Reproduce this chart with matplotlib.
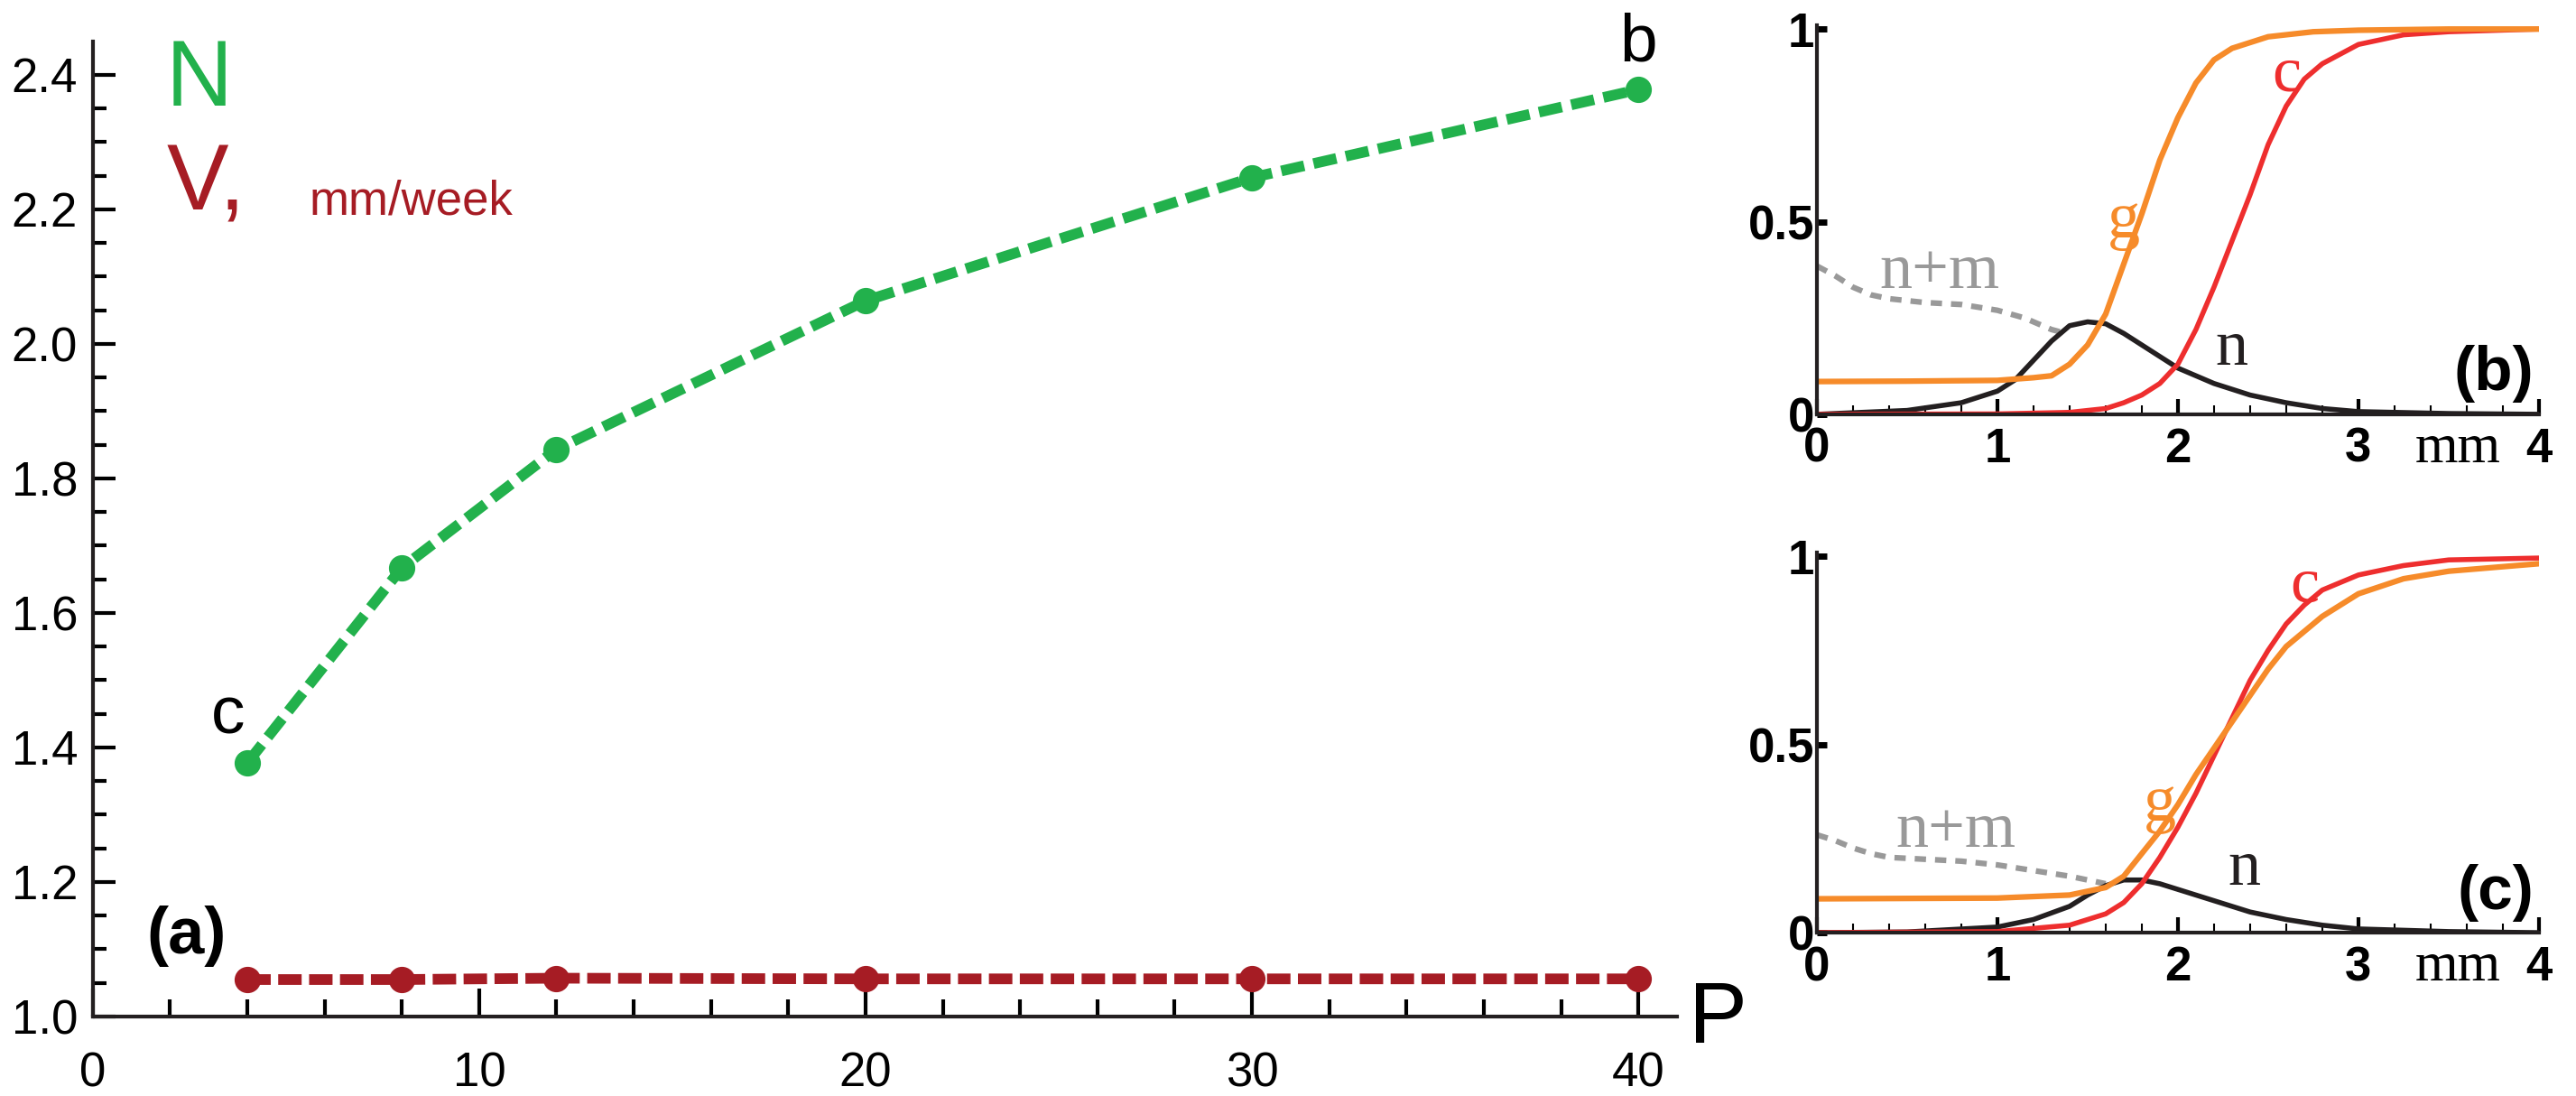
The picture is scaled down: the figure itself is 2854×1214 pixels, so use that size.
import matplotlib
matplotlib.use("Agg")
import matplotlib.pyplot as plt
import numpy as np

# ---- panel (a) data ----
P = [4, 8, 12, 20, 30, 40]
N_vals = [1.377, 1.667, 1.843, 2.064, 2.247, 2.378]
V_vals = [1.055, 1.055, 1.057, 1.056, 1.056, 1.056]

# ---- panel (b) data ----
b_g_x = [0, 0.5, 1.0, 1.2, 1.3, 1.4, 1.5, 1.6, 1.7, 1.8, 1.9, 2.0, 2.1, 2.2, 2.3, 2.5, 2.75, 3.0, 3.5, 4.0]
b_g_y = [0.085, 0.086, 0.088, 0.095, 0.10, 0.13, 0.18, 0.26, 0.39, 0.52, 0.66, 0.77, 0.86, 0.92, 0.95, 0.98, 0.993, 0.997, 1.0, 1.0]
b_c_x = [0, 1.0, 1.4, 1.6, 1.7, 1.8, 1.9, 2.0, 2.1, 2.2, 2.3, 2.4, 2.5, 2.6, 2.7, 2.8, 3.0, 3.25, 3.5, 4.0]
b_c_y = [0, 0.001, 0.005, 0.015, 0.03, 0.05, 0.08, 0.13, 0.22, 0.33, 0.45, 0.57, 0.70, 0.80, 0.87, 0.91, 0.96, 0.985, 0.993, 1.0]
b_n_x = [0, 0.5, 0.8, 1.0, 1.1, 1.2, 1.3, 1.4, 1.5, 1.6, 1.7, 1.8, 1.9, 2.0, 2.2, 2.4, 2.6, 2.8, 3.0, 3.5, 4.0]
b_n_y = [0, 0.01, 0.03, 0.06, 0.09, 0.14, 0.19, 0.23, 0.24, 0.235, 0.21, 0.18, 0.15, 0.12, 0.08, 0.05, 0.03, 0.015, 0.007, 0.002, 0]
b_nm_x = [0, 0.1, 0.2, 0.3, 0.4, 0.6, 0.8, 1.0, 1.15, 1.3, 1.38]
b_nm_y = [0.385, 0.36, 0.33, 0.31, 0.30, 0.29, 0.285, 0.27, 0.25, 0.22, 0.21]

# ---- panel (c) data ----
c_g_x = [0, 1.0, 1.4, 1.6, 1.7, 1.8, 1.9, 2.0, 2.1, 2.2, 2.3, 2.4, 2.5, 2.6, 2.8, 3.0, 3.25, 3.5, 3.75, 4.0]
c_g_y = [0.09, 0.092, 0.10, 0.12, 0.15, 0.21, 0.27, 0.34, 0.42, 0.49, 0.56, 0.63, 0.70, 0.76, 0.84, 0.90, 0.94, 0.96, 0.97, 0.98]
c_c_x = [0, 1.0, 1.4, 1.6, 1.7, 1.8, 1.9, 2.0, 2.1, 2.2, 2.3, 2.4, 2.5, 2.6, 2.7, 2.8, 3.0, 3.25, 3.5, 4.0]
c_c_y = [0, 0.003, 0.02, 0.05, 0.08, 0.13, 0.20, 0.28, 0.37, 0.47, 0.57, 0.67, 0.75, 0.82, 0.87, 0.91, 0.95, 0.975, 0.99, 0.995]
c_n_x = [0, 0.5, 1.0, 1.2, 1.4, 1.5, 1.6, 1.7, 1.8, 1.9, 2.0, 2.2, 2.4, 2.6, 2.8, 3.0, 3.5, 4.0]
c_n_y = [0, 0.002, 0.015, 0.035, 0.07, 0.10, 0.125, 0.14, 0.14, 0.13, 0.115, 0.085, 0.055, 0.035, 0.02, 0.01, 0.003, 0]
c_nm_x = [0, 0.1, 0.2, 0.3, 0.4, 0.6, 0.8, 1.0, 1.2, 1.4, 1.6]
c_nm_y = [0.26, 0.245, 0.225, 0.21, 0.20, 0.195, 0.19, 0.18, 0.165, 0.15, 0.13]

GREEN = "#22b14c"; DRED = "#a61c24"; ORANGE = "#f68b2a"; RED = "#ee2e2e"
GRAY = "#999999"; BLACK = "#231f20"

fig = plt.figure(figsize=(28.54, 12.14), dpi=100)
sans = "Liberation Sans"; serif = "Liberation Serif"

# ---------- panel (a) ----------
ax = fig.add_axes([0.036, 0.0725, 0.615, 0.890])
ax.plot(P, N_vals, color=GREEN, lw=8.5, ls=(0, (2.2, 0.9)), marker="o", ms=20)
ax.plot(P, V_vals, color=DRED, lw=8.5, ls=(0, (2.2, 0.7)), marker="o", ms=20)
ax.set_xlim(0, 41)
ax.set_ylim(1.0, 2.45)
for s in ["top", "right"]:
    ax.spines[s].set_visible(False)
for s in ["left", "bottom"]:
    ax.spines[s].set_linewidth(3)
    ax.spines[s].set_color(BLACK)
ax.set_xticks([0, 10, 20, 30, 40])
ax.set_xticks(np.arange(2, 41, 2), minor=True)
ax.set_yticks(np.arange(1.0, 2.41, 0.2))
ax.set_yticklabels([f"{v:.1f}" for v in np.arange(1.0, 2.41, 0.2)])
ax.set_yticks(np.arange(1.05, 2.45, 0.05), minor=True)
ax.tick_params(axis="x", which="major", direction="in", length=22, width=3, pad=28, labelsize=38)
ax.tick_params(axis="x", which="minor", direction="in", length=14, width=3)
ax.tick_params(axis="y", which="major", direction="in", length=18, width=3, labelsize=38, pad=12)
ax.tick_params(axis="y", which="minor", direction="in", length=11, width=3)
for lab in ax.get_xticklabels() + ax.get_yticklabels():
    lab.set_family(sans)
ax.text(1.9, 2.455, "N", color=GREEN, fontsize=74, family=sans, va="top")
ax.text(1.9, 2.30, "V,", color=DRED, fontsize=74, family=sans, va="top")
ax.text(5.6, 2.245, "mm/week", color=DRED, fontsize=38, family=sans, va="top")
ax.text(3.5, 1.40, "c", fontsize=54, family=sans, ha="center", va="bottom")
ax.text(40, 2.40, "b", fontsize=54, family=sans, ha="center", va="bottom")
ax.text(1.4, 1.12, "(a)", fontsize=52, family=sans, fontweight="bold", va="center")
ax.text(41.3, 0.995, "P", fontsize=70, family=sans, va="center", clip_on=False)

# ---------- panels (b) and (c) ----------
def right_panel(rect, g, c, n, nm, tag, labpos):
    a = fig.add_axes(rect)
    a.plot(nm[0], nm[1], color=GRAY, lw=4.5, ls=(0, (2.0, 1.6)))
    a.plot(n[0], n[1], color=BLACK, lw=4)
    a.plot(c[0], c[1], color=RED, lw=4)
    a.plot(g[0], g[1], color=ORANGE, lw=4.5)
    a.set_xlim(0, 4)
    a.set_ylim(0, 1.01)
    for s in ["top", "right"]:
        a.spines[s].set_visible(False)
    for s in ["left", "bottom"]:
        a.spines[s].set_linewidth(3)
        a.spines[s].set_color(BLACK)
    a.set_xticks([0, 1, 2, 3, 4])
    a.set_xticks(np.arange(0.2, 4, 0.2), minor=True)
    a.set_yticks([0, 0.5, 1])
    a.set_yticklabels(["0", "0.5", "1"])
    a.tick_params(axis="x", which="major", direction="in", length=12, width=3, labelsize=38, pad=10)
    a.tick_params(axis="x", which="minor", direction="in", length=7, width=1.5)
    a.tick_params(axis="y", which="major", direction="in", length=8, width=5, labelsize=38, pad=2)
    for lab in a.get_xticklabels() + a.get_yticklabels():
        lab.set_family(sans)
        lab.set_fontweight("bold")
    for txt, (x, y), col in labpos:
        a.text(x, y, txt, color=col, fontsize=52, family=serif, ha="center", va="center")
    a.text(3.55, -0.025, "mm", fontsize=44, family=serif, ha="center", va="top")
    a.text(3.97, 0.03, tag, fontsize=50, family=sans, fontweight="bold", ha="right", va="bottom")
    return a

right_panel([0.7053, 0.622, 0.2803, 0.355],
            (b_g_x, b_g_y), (b_c_x, b_c_y), (b_n_x, b_n_y), (b_nm_x, b_nm_y), "(b)",
            [("n+m", (0.68, 0.37), GRAY), ("g", (1.7, 0.50), ORANGE),
             ("c", (2.6, 0.88), RED), ("n", (2.3, 0.17), BLACK)])
right_panel([0.7053, 0.149, 0.2803, 0.347],
            (c_g_x, c_g_y), (c_c_x, c_c_y), (c_n_x, c_n_y), (c_nm_x, c_nm_y), "(c)",
            [("n+m", (0.77, 0.27), GRAY), ("g", (1.9, 0.34), ORANGE),
             ("c", (2.7, 0.92), RED), ("n", (2.37, 0.17), BLACK)])

fig.savefig("out.png", dpi=100)
